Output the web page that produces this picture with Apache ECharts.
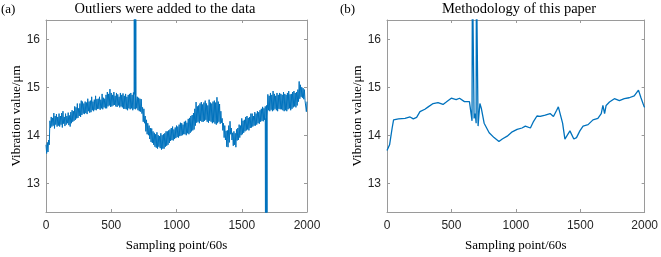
<!DOCTYPE html>
<html>
<head>
<meta charset="utf-8">
<script src="https://cdn.jsdelivr.net/npm/echarts/dist/echarts.min.js"></script>
<style>
  html, body { margin: 0; padding: 0; background: #fff; }
  #main { width: 661px; height: 257px; }
</style>
</head>
<body>
<div id="main"></div>
<script>
// panel (a): noisy raw signal, top and bottom of the band read every 10 sampling points
const upperA = [
  13.80, 13.85, 13.90, 14.30, 14.38, 14.36, 14.46, 14.40, 14.44, 14.38,
  14.45, 14.40, 14.46, 14.50, 14.38, 14.45, 14.40, 14.47, 14.41, 14.48,
  14.52, 14.50, 14.60, 14.58, 14.66, 14.56, 14.66, 14.72, 14.70, 14.66,
  14.70, 14.68, 14.76, 14.70, 14.72, 14.80, 14.70, 14.74, 14.82, 14.75,
  14.76, 14.80, 14.74, 14.86, 14.78, 14.76, 14.84, 14.90, 14.86, 14.96,
  14.88, 14.84, 14.90, 14.82, 14.88, 14.85, 14.80, 14.88, 14.84, 14.87,
  14.82, 14.86, 14.80, 14.84, 14.86, 14.88, 14.84, 14.89, 14.85, 14.82,
  14.80, 14.78, 14.76, 14.75, 14.58, 14.55, 14.40, 14.32, 14.25, 14.20,
  14.15, 14.14, 14.08, 14.05, 14.02, 14.06, 14.00, 13.98, 14.04, 14.00,
  14.02, 14.04, 14.08, 14.08, 14.10, 14.12, 14.15, 14.18, 14.12, 14.16,
  14.20, 14.18, 14.22, 14.26, 14.25, 14.22, 14.28, 14.30, 14.26, 14.34,
  14.36, 14.40, 14.42, 14.46, 14.55, 14.69, 14.60, 14.62, 14.66, 14.69,
  14.64, 14.68, 14.72, 14.66, 14.62, 14.74, 14.68, 14.66, 14.70, 14.72,
  14.68, 14.79, 14.70, 14.65, 14.50, 14.35, 14.25, 14.20, 14.09, 14.10,
  14.20, 14.29, 14.15, 14.05, 14.08, 14.04, 14.12, 14.15, 14.22, 14.20,
  14.35, 14.30, 14.32, 14.38, 14.40, 14.36, 14.38, 14.45, 14.45, 14.40,
  14.48, 14.45, 14.50, 14.48, 14.52, 14.55, 14.59, 14.56, 14.60, 14.62,
  14.85, 14.82, 14.88, 14.84, 14.92, 14.86, 14.82, 14.88, 14.84, 14.88,
  14.86, 14.84, 14.90, 14.86, 14.84, 14.88, 14.92, 14.85, 14.86, 14.90,
  14.92, 14.88, 14.90, 14.95, 15.12, 15.05, 15.00, 14.98, 14.95, 14.76,
  14.70
]
const lowerA = [
  13.62, 13.65, 13.80, 14.15, 14.18, 14.20, 14.14, 14.22, 14.18, 14.20,
  14.18, 14.22, 14.16, 14.24, 14.19, 14.22, 14.25, 14.21, 14.18, 14.25,
  14.28, 14.30, 14.32, 14.35, 14.36, 14.40, 14.38, 14.42, 14.45, 14.44,
  14.46, 14.44, 14.50, 14.47, 14.48, 14.52, 14.50, 14.53, 14.52, 14.55,
  14.55, 14.53, 14.56, 14.54, 14.58, 14.56, 14.56, 14.60, 14.62, 14.59,
  14.60, 14.62, 14.63, 14.60, 14.59, 14.62, 14.58, 14.60, 14.58, 14.55,
  14.55, 14.54, 14.52, 14.56, 14.54, 14.56, 14.52, 14.55, 14.54, 14.56,
  14.52, 14.50, 14.49, 14.45, 14.28, 14.25, 14.08, 14.02, 14.00, 13.92,
  13.86, 13.84, 13.80, 13.76, 13.74, 13.72, 13.76, 13.73, 13.70, 13.72,
  13.72, 13.76, 13.78, 13.80, 13.84, 13.88, 13.90, 13.89, 13.92, 13.94,
  13.96, 13.95, 13.98, 13.99, 14.00, 14.02, 14.02, 14.00, 14.04, 14.02,
  14.05, 14.08, 14.10, 14.12, 14.20, 14.26, 14.28, 14.25, 14.30, 14.28,
  14.28, 14.30, 14.32, 14.28, 14.26, 14.30, 14.28, 14.25, 14.27, 14.24,
  14.22, 14.25, 14.28, 14.24, 14.26, 14.10, 13.95, 13.90, 13.76, 13.75,
  13.85, 14.02, 13.90, 13.78, 13.80, 13.75, 13.89, 13.90, 13.95, 14.00,
  14.02, 14.05, 14.08, 14.10, 14.12, 14.10, 14.15, 14.16, 14.18, 14.20,
  14.20, 14.22, 14.25, 14.24, 14.28, 14.30, 14.29, 14.32, 14.35, 14.40,
  14.52, 14.50, 14.53, 14.50, 14.52, 14.55, 14.52, 14.50, 14.55, 14.54,
  14.54, 14.52, 14.50, 14.52, 14.50, 14.54, 14.56, 14.52, 14.55, 14.58,
  14.60, 14.58, 14.62, 14.70, 14.76, 14.80, 14.78, 14.75, 14.72, 14.49,
  14.55
]
const stepA = 10
// injected outliers in (a): [sampling point, value]
const outliersA = [[676, 17.5], [682, 17.5], [688, 17.5], [1682, 11.2], [1688, 11.2], [1694, 11.2]]

// panel (b): processed signal
const sampleB = [
  0, 20, 40, 51, 89, 140, 179, 204, 230, 256, 294, 320, 358, 396, 435, 460, 499, 537, 563, 601,
  640, 655, 660, 663, 673, 676, 685, 692, 694, 704, 707, 713, 721, 733, 754, 793, 831, 869, 895, 933,
  972, 1010, 1048, 1074, 1113, 1138, 1164, 1189, 1228, 1266, 1292, 1317, 1330, 1343, 1363, 1381, 1394, 1420, 1433, 1450,
  1471, 1497, 1522, 1561, 1599, 1637, 1663, 1676, 1689, 1701, 1727, 1765, 1804, 1842, 1880, 1919, 1952, 1970, 1995, 2000
]
const valueB = [
  13.68, 13.80, 14.15, 14.32, 14.34, 14.35, 14.38, 14.34, 14.37, 14.49, 14.54, 14.59, 14.66, 14.68, 14.64, 14.69, 14.77, 14.74, 14.77, 14.70,
  14.70, 14.68, 14.30, 17.5, 17.5, 14.35, 14.45, 14.25, 17.5, 17.5, 14.19, 14.40, 14.66, 14.55, 14.25, 14.05, 13.95, 13.87, 13.92, 13.98,
  14.07, 14.12, 14.15, 14.19, 14.15, 14.29, 14.40, 14.39, 14.42, 14.45, 14.39, 14.52, 14.59, 14.60, 14.25, 13.92, 13.90, 14.09, 14.08, 13.92,
  13.95, 14.09, 14.19, 14.22, 14.32, 14.35, 14.45, 14.62, 14.45, 14.62, 14.69, 14.76, 14.72, 14.76, 14.78, 14.82, 14.94, 14.79, 14.60, 14.58
]

const yTicks = [13, 14, 15, 16]

const lineColor = '#0072BD'
const frameColor = '#9a9a9a'
const serif = 'Liberation Serif'

// top and bottom of the band alternate half a step apart
let dataA = []
upperA.forEach((v, i) => {
  dataA.push([i * stepA, v])
  if (i * stepA + stepA / 2 <= 2000) dataA.push([i * stepA + stepA / 2, lowerA[i]])
})
dataA = dataA.concat(outliersA).sort((p, q) => p[0] - q[0])
const dataB = sampleB.map((s, i) => [s, valueB[i]])

const grids = [
  { left: 46, right: 354, top: 20, bottom: 39 },
  { left: 387, right: 14, top: 20, bottom: 39 }
]

function xAxes(g) {
  const base = {
    gridIndex: g, type: 'value', min: 0, max: 2000, interval: 500,
    axisLine: { show: true, onZero: false, lineStyle: { color: frameColor, width: 1 } },
    axisTick: { show: true, inside: true, length: 3, lineStyle: { color: frameColor } },
    splitLine: { show: false }
  }
  return [
    Object.assign({}, base, {
      position: 'bottom',
      axisLabel: { color: '#262626', fontFamily: 'Liberation Sans', fontSize: 12, margin: 8, formatter: v => String(v) },
      name: 'Sampling point/60s', nameLocation: 'middle', nameGap: 27,
      nameTextStyle: { fontFamily: serif, fontSize: 13, color: '#000' }
    }),
    Object.assign({}, base, { position: 'top', axisLabel: { show: false } })
  ]
}

function yAxes(g) {
  const base = {
    gridIndex: g, type: 'value', min: 12.4, max: 16.4,
    axisLine: { show: true, onZero: false, lineStyle: { color: frameColor, width: 1 } },
    axisTick: { show: true, inside: true, length: 3, customValues: yTicks, lineStyle: { color: frameColor } },
    splitLine: { show: false }
  }
  return [
    Object.assign({}, base, {
      position: 'left',
      axisLabel: { color: '#262626', fontFamily: 'Liberation Sans', fontSize: 12, margin: 6, customValues: yTicks },
      name: 'Vibration value/μm', nameLocation: 'middle', nameGap: 19,
      nameTextStyle: { fontFamily: serif, fontSize: 13, color: '#000' }
    }),
    Object.assign({}, base, { position: 'right', axisLabel: { show: false } })
  ]
}

const chart = echarts.init(document.getElementById('main'), null, { renderer: 'canvas' })

chart.setOption({
  animation: false,
  backgroundColor: '#fff',
  title: [
    { text: 'Outliers were added to the data', left: 160, top: -3, textAlign: 'center',
      textStyle: { fontFamily: serif, fontSize: 14.5, fontWeight: 'normal', color: '#000' } },
    { text: 'Methodology of this paper', left: 514, top: -3, textAlign: 'center',
      textStyle: { fontFamily: serif, fontSize: 14.5, fontWeight: 'normal', color: '#000' } },
    { text: '(a)', left: -4, top: -2,
      textStyle: { fontFamily: serif, fontSize: 13, fontWeight: 'normal', color: '#000' } },
    { text: '(b)', left: 335, top: -2,
      textStyle: { fontFamily: serif, fontSize: 13, fontWeight: 'normal', color: '#000' } }
  ],
  grid: grids,
  xAxis: xAxes(0).concat(xAxes(1)),
  yAxis: yAxes(0).concat(yAxes(1)),
  series: [
    {
      type: 'line', xAxisIndex: 0, yAxisIndex: 0, data: dataA,
      showSymbol: false, symbol: 'none', clip: true,
      lineStyle: { color: lineColor, width: 1 }
    },
    {
      type: 'line', xAxisIndex: 2, yAxisIndex: 2, data: dataB,
      showSymbol: false, symbol: 'none', clip: true,
      lineStyle: { color: lineColor, width: 1.3 }
    }
  ]
})
</script>
</body>
</html>
